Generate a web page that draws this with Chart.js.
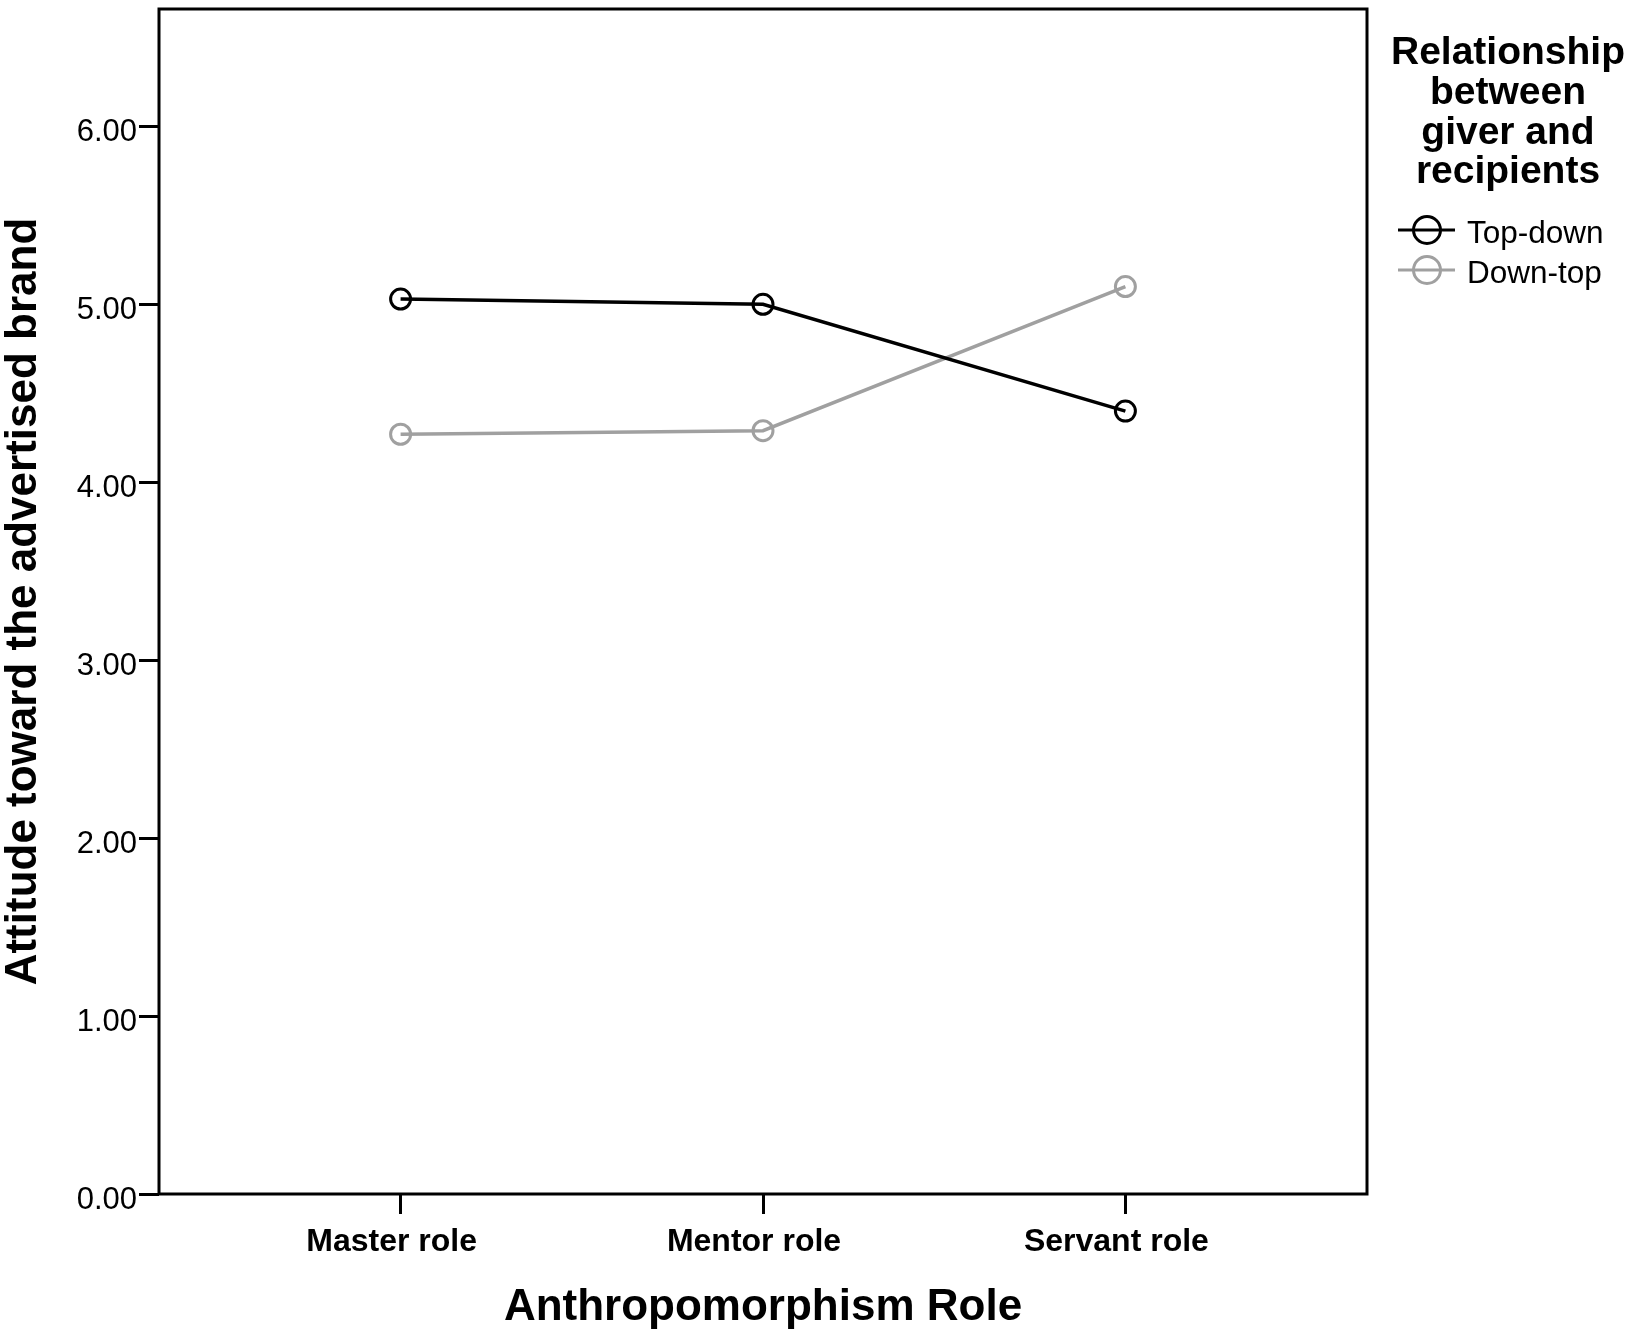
<!DOCTYPE html>
<html>
<head>
<meta charset="utf-8">
<title>Attitude toward the advertised brand</title>
<script src="https://cdn.jsdelivr.net/npm/chart.js@4.4.1/dist/chart.umd.min.js"></script>
<style>
  html, body { margin: 0; padding: 0; background: #fff; }
  #wrap { width: 1636px; height: 1340px; position: relative; }
</style>
</head>
<body>
<div id="wrap"><canvas id="roleChart"></canvas></div>
<script>
// data
var roles = ["Master role", "Mentor role", "Servant role"];
var topDown = [5.03, 5.00, 4.40];
var downTop = [4.27, 4.29, 5.10];
var yTicks = [0, 1, 2, 3, 4, 5, 6];
var legendTitle = ["Relationship", "between", "giver and", "recipients"];

var FONT = "'Liberation Sans', Arial, sans-serif";

function toPoints(values) {
    var pts = [];
    for (var i = 0; i < values.length; i++) {
        pts.push({ x: i, y: values[i] });
    }
    return pts;
}

/** box round the plot area **/
var frame = {
    id: "frame",
    beforeDatasetsDraw: function (chart) {
        var c = chart.ctx, a = chart.chartArea;
        c.save();
        c.strokeStyle = "#000";
        c.lineWidth = 3;
        c.strokeRect(a.left, a.top, a.right - a.left, a.bottom - a.top);
        c.restore();
    }
};

/** SPSS style legend on the right **/
var sideLegend = {
    id: "sideLegend",
    afterDraw: function (chart) {
        var c = chart.ctx;
        c.save();
        c.fillStyle = "#000";
        c.textAlign = "center";
        c.textBaseline = "alphabetic";
        c.font = "bold 39px " + FONT;
        for (var i = 0; i < legendTitle.length; i++) {
            c.fillText(legendTitle[i], 1508, 64 + i * 39.8);
        }
        var sets = chart.data.datasets;
        for (var k = 0; k < sets.length; k++) {
            var y = 230 + k * 40;
            c.strokeStyle = sets[k].borderColor;
            c.lineWidth = 3;
            c.beginPath();
            c.moveTo(1398, y);
            c.lineTo(1455, y);
            c.stroke();
            c.beginPath();
            c.arc(1427, y, 13.5, 0, Math.PI * 2);
            c.stroke();
            c.fillStyle = "#000";
            c.textAlign = "left";
            c.font = "31.5px " + FONT;
            c.fillText(sets[k].label, 1467, y + 13);
        }
        c.restore();
    }
};

var ctx = document.getElementById("roleChart").getContext("2d");
var chart = new Chart(ctx, {
    type: "line",
    data: {
        datasets: [
            {
                label: "Top-down",
                data: toPoints(topDown),
                borderColor: "#000000",
                borderWidth: 3.5,
                pointRadius: 10,
                pointBorderWidth: 3,
                pointBorderColor: "#000000",
                pointBackgroundColor: "rgba(0,0,0,0)"
            },
            {
                label: "Down-top",
                data: toPoints(downTop),
                borderColor: "#a0a0a0",
                borderWidth: 3.5,
                pointRadius: 10,
                pointBorderWidth: 3,
                pointBorderColor: "#a0a0a0",
                pointBackgroundColor: "rgba(0,0,0,0)"
            }
        ]
    },
    options: {
        responsive: true,
        maintainAspectRatio: false,
        animation: false,
        layout: {
            autoPadding: false,
            padding: { top: 9, right: 269, left: 0, bottom: 0 }
        },
        plugins: {
            legend: { display: false },
            tooltip: { enabled: false }
        },
        scales: {
            x: {
                type: "linear",
                min: -2 / 3,
                max: 8 / 3,
                afterBuildTicks: function (scale) {
                    scale.ticks = roles.map(function (r, i) { return { value: i }; });
                },
                afterFit: function (scale) {
                    scale.height = 146;
                    scale.paddingLeft = 0;
                    scale.paddingRight = 0;
                },
                border: { display: false },
                grid: {
                    drawOnChartArea: false,
                    drawTicks: true,
                    tickLength: 20,
                    tickWidth: 3,
                    tickColor: "#000"
                },
                ticks: {
                    autoSkip: false,
                    maxRotation: 0,
                    padding: 9,
                    labelOffset: -9,
                    color: "#000",
                    font: { family: FONT, size: 32, weight: "bold" },
                    callback: function (v) { return roles[v]; }
                },
                title: {
                    display: true,
                    text: "Anthropomorphism Role",
                    color: "#000",
                    font: { family: FONT, size: 44, weight: "bold", lineHeight: 1.2 },
                    padding: { top: 0, bottom: 6 }
                }
            },
            y: {
                min: 0,
                max: 6.66,
                afterBuildTicks: function (scale) {
                    scale.ticks = yTicks.map(function (v) { return { value: v }; });
                },
                afterFit: function (scale) {
                    scale.width = 159;
                    scale.paddingTop = 0;
                    scale.paddingBottom = 0;
                },
                border: { display: false },
                grid: {
                    drawOnChartArea: false,
                    drawTicks: true,
                    tickLength: 20,
                    tickWidth: 3,
                    tickColor: "#000"
                },
                ticks: {
                    padding: 2,
                    labelOffset: 6,
                    color: "#000",
                    font: { family: FONT, size: 31, lineHeight: 0.6 },
                    callback: function (v) { return v.toFixed(2); }
                },
                title: {
                    display: true,
                    text: "Attitude toward the advertised brand",
                    color: "#000",
                    font: { family: FONT, size: 44, weight: "bold", lineHeight: 1 },
                    padding: { top: 2, bottom: 0 }
                }
            }
        }
    },
    plugins: [frame, sideLegend]
});
</script>
</body>
</html>
